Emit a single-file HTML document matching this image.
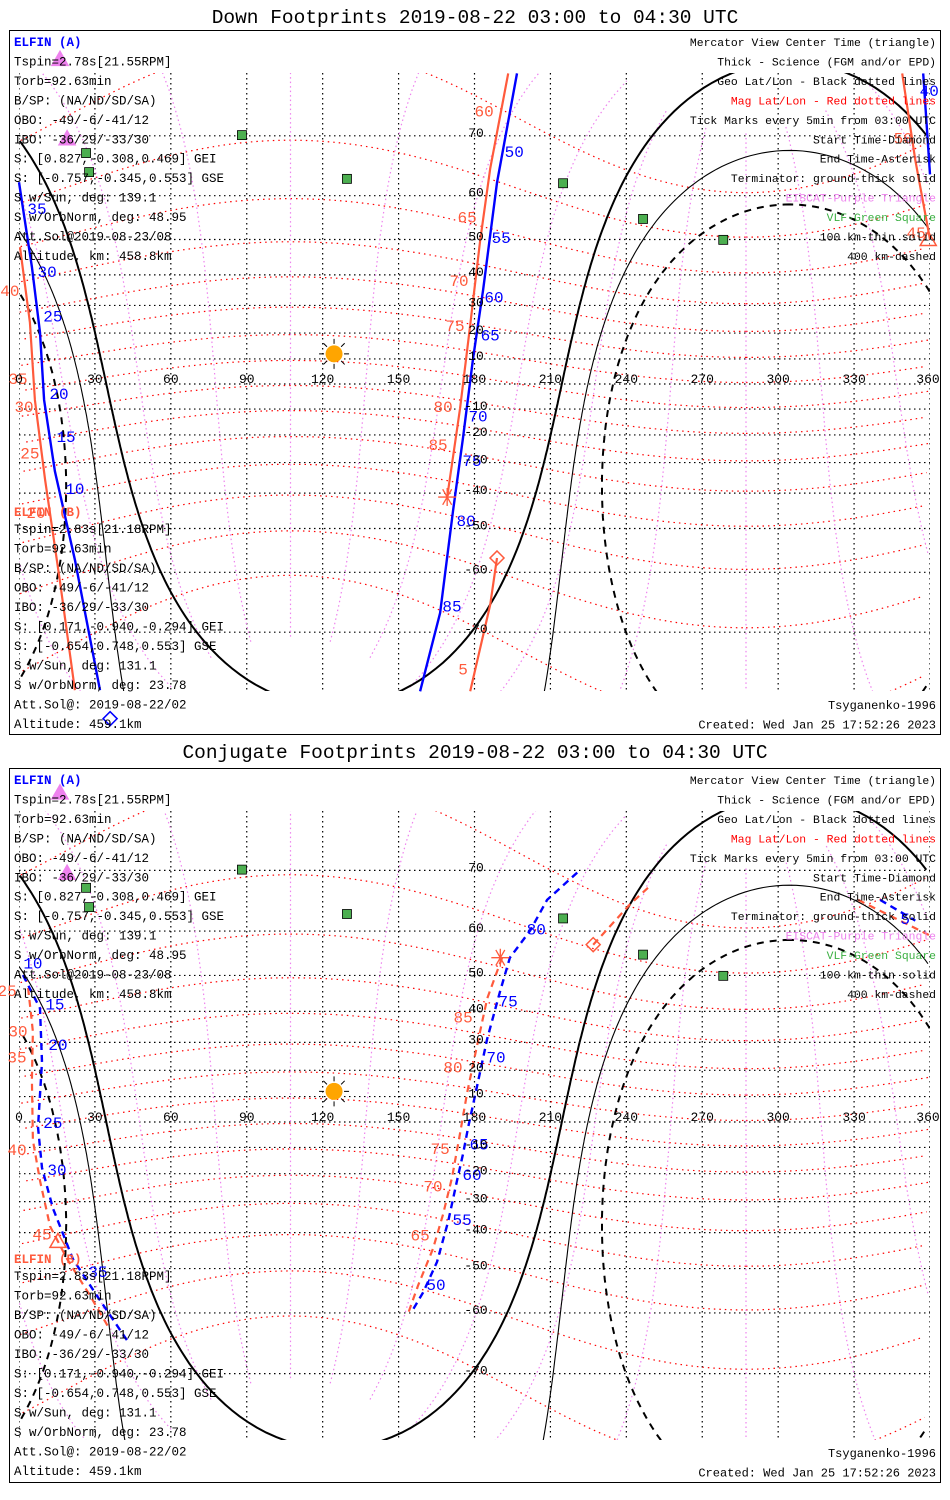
<!DOCTYPE html>
<html><head><meta charset="utf-8"><title>ELFIN Footprints</title>
<style>
html,body{margin:0;padding:0;background:#fff;width:950px;height:1500px;overflow:hidden;}
svg{display:block;overflow:hidden;position:absolute;left:0;top:0;}
text{font-family:"Liberation Mono","DejaVu Sans Mono",monospace;}
</style></head>
<body>
<svg id="chart" width="950" height="1500" viewBox="0 0 950 1500" xmlns="http://www.w3.org/2000/svg">
<defs>
<clipPath id="clip0"><rect x="19" y="73" width="911" height="618"/></clipPath>
<clipPath id="clip1"><rect x="19" y="811" width="911" height="629"/></clipPath>
</defs>
<rect x="0" y="0" width="950" height="1500" fill="#fff"/>
<text x="475" y="23" font-size="19.5" text-anchor="middle">Down Footprints 2019-08-22 03:00 to 04:30 UTC</text>
<rect x="9.5" y="30.5" width="931" height="704" fill="none" stroke="#000" stroke-width="1"/>
<text x="475" y="758" font-size="19.5" text-anchor="middle">Conjugate Footprints 2019-08-22 03:00 to 04:30 UTC</text>
<rect x="9.5" y="768.5" width="931" height="714" fill="none" stroke="#000" stroke-width="1"/>
<g id="layer"></g>
</svg>
<script>
// ---------------- data ----------------
const lonTicks = [0,30,60,90,120,150,180,210,240,270,300,330,360];
const latTicks = [70,60,50,40,30,20,10,-10,-20,-30,-40,-50,-60,-70];
const sunLon = 124.5, sunLat = 12;
const terminatorSza = [90, 100.1, 109.8];
const vlfLon = [88.1,26.5,27.7,129.6,215,246.6,278.3];
const vlfLat = [70.1,67.5,64.4,63.2,62.4,55,49.9];
const eiscatLon = [16.2,19];
const eiscatLat = [78.2,69.6];

// Down panel, ELFIN A (blue)
const dA1Lon = [196.8,188.9,183.4,179.4,175.5,171.5,166.4,158.5];
const dA1Lat = [77,62.5,35.2,10.0,-20.8,-45.3,-67.2,-76.7];
const dA2Lon = [0,5.1,8.3,9.9,14.2,22.1,32];
const dA2Lat = [62.6,42.4,20.2,-6.4,-33,-57.4,-76.6];
const dA3Lon = [357.3,360];
const dA3Lat = [77,64];
const dALabels = ['50','55','60','65','70','75','80','85','35','30','25','20','15','10','40'];
const dALabLon = [195.7,190.5,187.7,186.2,181.4,179,176.7,171.1,7.1,11.1,13.4,15.8,18.6,22.1,359.7];
const dALabLat = [67.8,50.6,33,19.5,-12.6,-29.1,-47.8,-66,57.4,41.2,26.5,-3.6,-20.4,-38.4,75.4];
// Down panel, ELFIN B (orange)
const dB1Lon = [193.3,186.2,182.2,178.3,174.3,169.2];
const dB1Lat = [77,65,49.6,23,-9.6,-41.2];
const dB2Lon = [188.9,186.2,178.3];
const dB2Lat = [-57,-65.9,-76.7];
const dB3Lon = [349,354.2,360];
const dB3Lat = [77,66.4,50];
const dB4Lon = [0.4,4.3,6.3,10.3,16.2,22.1];
const dB4Lat = [48,24,-6.4,-35.8,-61.8,-76.6];
const dBLabels = ['60','65','70','75','80','85','5','40','35','30','25','20','50','45'];
const dBLabLon = [183.8,177.1,173.9,172.3,167.6,165.6,175.5,-3.6,-0.4,2,4.3,6.7,349.4,354.5];
const dBLabLat = [73.2,55.6,38.4,23,-8.8,-23.4,-74.4,35.2,2.4,-8.8,-26.4,-45.5,69.8,51.9];

// Conjugate panel, ELFIN A (blue dashed)
const cA1Lon = [220.6,208.7,202,194,190.1,185,181,177.5,175.5,173.1,169.6,165.2,159.7,155.7];
const cA1Lat = [69.7,65.6,60.1,54.3,45.8,31.2,13.9,-2,-12.4,-22.6,-36.5,-48.3,-55.7,-59.3];
const cA2Lon = [1.6,8.3,9.1,7.5,9.1,13.4,21.3,30.8,42.7];
const cA2Lat = [50.1,40.9,23,-2,-17.8,-32.2,-47.5,-56.4,-65];
const cA3Lon = [340.3,354.2];
const cA3Lat = [65.6,62];
const cALabels = ['80','75','70','65','60','55','50','10','15','20','25','30','35','5'];
const cALabLon = [204.4,193.3,188.5,181.8,179,175.1,164.8,5.5,14.2,15.4,13.4,15,31.2,350.2];
const cALabLat = [60.5,43.2,25,-8.4,-20.1,-35.8,-53.8,53.2,42.4,29.5,0,-18.2,-50.6,62.5];
// Conjugate panel, ELFIN B (orange dashed)
const cB1Lon = [190.9,185,181,177.1,174.3,171.1,167.6,163.6,157.7,153.4];
const cB1Lat = [54.3,43.8,28.8,11.6,-4.4,-21.5,-34.2,-44.7,-54.1,-60.6];
const cB2Lon = [226.9,241.5,250];
const cB2Lat = [57.2,64.9,68];
const cB3Lon = [331.6,360];
const cB3Lat = [65.6,59.1];
const cB4Lon = [3.6,5.5,5.1,5.5,8.3,12.3,19,28.1,36];
const cB4Lat = [46.7,33.6,16.6,-7.2,-22.6,-38.1,-47.5,-56.4,-63.2];
const cBLabels = ['85','80','75','70','65','25','30','35','40','45'];
const cBLabLon = [175.5,171.5,166.4,163.6,158.5,-4.7,-0.4,-0.8,-0.8,9.1];
const cBLabLat = [38.4,21.5,-10.3,-24.4,-40.5,46.1,34,25,-10.7,-40.2];

const infoA = ['ELFIN (A)','Tspin=2.78s[21.55RPM]','Torb=92.63min','B/SP: (NA/ND/SD/SA)','OBO: -49/-6/-41/12','IBO: -36/29/-33/30','S: [0.827,-0.308,0.469] GEI','S: [-0.757,-0.345,0.553] GSE','S w/Sun, deg: 139.1','S w/OrbNorm, deg: 48.95','Att.Sol@2019-08-23/08','Altitude, km: 458.8km'];
const infoB = ['ELFIN (B)','Tspin=2.83s[21.18RPM]','Torb=92.63min','B/SP: (NA/ND/SD/SA)','OBO: -49/-6/-41/12','IBO: -36/29/-33/30','S: [0.171,-0.940,-0.294] GEI','S: [-0.654,0.748,0.553] GSE','S w/Sun, deg: 131.1','S w/OrbNorm, deg: 23.78','Att.Sol@: 2019-08-22/02','Altitude: 459.1km'];
const legendLines = ['Mercator View Center Time (triangle)','Thick - Science (FGM and/or EPD)','Geo Lat/Lon - Black dotted lines','Mag Lat/Lon - Red dotted lines','Tick Marks every 5min from 03:00 UTC','Start Time-Diamond','End Time-Asterisk','Terminator: ground-thick solid','EISCAT-Purple Triangle','VLF-Green Square','100 km-thin solid','400 km-dashed'];
const legendColors = ['#000','#000','#000','#f00','#000','#000','#000','#000','#ee82ee','#3cb043','#000','#000'];

// ---------------- drawing ----------------
const NS = 'http://www.w3.org/2000/svg';
const layer = document.getElementById('layer');
const BLUE = '#0000ff', ORANGE = '#ff5a3c';
const D = Math.PI/180;
function mk(tag, attrs, parent){
  const e = document.createElementNS(NS, tag);
  for (const k in attrs) e.setAttribute(k, attrs[k]);
  parent.appendChild(e);
  return e;
}
const panels = [
  {y0:384, R:143, dy:0, clip:'url(#clip0)', top:73, bot:691, key:'down'},
  {y0:1122, R:145, dy:738, clip:'url(#clip1)', top:811, bot:1440, key:'conj'}
];
function X(lon){ return 19 + lon*911/360; }
function Yf(p){ return lat => p.y0 - p.R*Math.log(Math.tan(Math.PI/4 + Math.max(-88,Math.min(88,lat))*D/2)); }
function cy(v){ return Math.max(0, Math.min(1500, v)); }
function pathOf(lons, lats, Y){
  let d=''; let prev=null;
  for (let i=0;i<lons.length;i++){
    const l=lons[i];
    const jump = prev!==null && Math.abs(l-prev)>180;
    d += ((i===0||jump)?'M':'L') + X(l).toFixed(1)+','+cy(Y(lats[i])).toFixed(1)+' ';
    prev=l;
  }
  return d;
}
function norm(l){ l%=360; if(l<0) l+=360; return l; }
function mag2geo(mlat, mlon){
  const tp=9.4*D, pp=287.3*D;
  const x=Math.cos(mlat*D)*Math.cos(mlon*D), y=Math.cos(mlat*D)*Math.sin(mlon*D), z=Math.sin(mlat*D);
  const x1=x*Math.cos(tp)+z*Math.sin(tp), z1=-x*Math.sin(tp)+z*Math.cos(tp);
  const x2=x1*Math.cos(pp)-y*Math.sin(pp), y2=x1*Math.sin(pp)+y*Math.cos(pp);
  return [norm(Math.atan2(y2,x2)/D), Math.asin(Math.max(-1,Math.min(1,z1)))/D];
}
function sym(kind, x, y, color, g){
  let e;
  if (kind==='asterisk'){
    let d=''; for (let a=0;a<180;a+=60){ const c=Math.cos(a*D)*9, s=Math.sin(a*D)*9; d+=`M${x-c},${y-s}L${x+c},${y+s}`; }
    d+=`M${x},${y-9}L${x},${y+9}`;
    e = mk('path',{d:d,stroke:color,'stroke-width':1.3,fill:'none'},g);
  } else if (kind==='diamond'){
    e = mk('path',{d:`M${x},${y-7}L${x+7},${y}L${x},${y+7}L${x-7},${y}Z`,stroke:color,'stroke-width':1.5,fill:'none'},g);
  } else {
    e = mk('path',{d:`M${x},${y-8}L${x+8},${y+6}L${x-8},${y+6}Z`,stroke:color,'stroke-width':1.5,fill:kind==='tri-fill'?color:'none'},g);
  }
  return e;
}

panels.forEach((p, pi) => {
  const Y = Yf(p);
  const g = mk('g',{'clip-path':p.clip},layer);
  
  
  lonTicks.forEach(lon => {
    const e = mk('line',{x1:X(lon),x2:X(lon),y1:p.top,y2:p.bot,stroke:'#000','stroke-width':1.2,'stroke-dasharray':'1.5,3.5'},g);
    
    
  });
  latTicks.concat([0]).forEach(lat => {
    const e = mk('line',{x1:19,x2:930,y1:Y(lat),y2:Y(lat),stroke:'#000','stroke-width':1.2,'stroke-dasharray':'1.5,3.5'},g);
    
    
  });
  for (let ml=-70; ml<=70; ml+=10){
    const lo=[], la=[];
    for (let m=0;m<=360;m+=3){ const q=mag2geo(ml,m); lo.push(q[0]); la.push(q[1]); }
    const e = mk('path',{d:pathOf(lo,la,Y),stroke:'#f00','stroke-width':1.2,fill:'none','stroke-dasharray':'1.5,4'},g);
    
    
  }
  for (let mo=0; mo<360; mo+=30){
    const lo=[], la=[];
    for (let ml=-80; ml<=80; ml+=2){ const q=mag2geo(ml,mo); lo.push(q[0]); la.push(q[1]); }
    const e = mk('path',{d:pathOf(lo,la,Y),stroke:'#ee82ee','stroke-width':1.2,fill:'none','stroke-dasharray':'1.5,3'},g);
    
    
  }
  terminatorSza.forEach((sza, k) => {
    const lo=[], la=[]; const dl=sunLat*D, th=sza*D;
    for (let az=0; az<=360; az+=1){
      const a=az*D;
      const lat2=Math.asin(Math.sin(dl)*Math.cos(th)+Math.cos(dl)*Math.sin(th)*Math.cos(a));
      const lon2=sunLon*D+Math.atan2(Math.sin(a)*Math.sin(th)*Math.cos(dl), Math.cos(th)-Math.sin(dl)*Math.sin(lat2));
      lo.push(norm(lon2/D)); la.push(lat2/D);
    }
    const st = k===0?{w:2,da:'none'}:(k===1?{w:1.1,da:'none'}:{w:2,da:'7,6'});
    const e = mk('path',{d:pathOf(lo,la,Y),stroke:'#000','stroke-width':st.w,fill:'none','stroke-dasharray':st.da},g);
    
    
  });
  vlfLon.forEach((lon,i) => {
    const e = mk('rect',{x:X(lon)-4.5,y:Y(vlfLat[i])-4.5,width:9,height:9,fill:'#4caf50',stroke:'#000','stroke-width':0.8},g);
    
    
  });
  const sx=X(sunLon), sy=Y(sunLat);
  let sd=''; for (let a=0;a<360;a+=45){ sd+=`M${sx+Math.cos(a*D)*10},${sy+Math.sin(a*D)*10}L${sx+Math.cos(a*D)*15},${sy+Math.sin(a*D)*15}`; }
  const rays = mk('path',{d:sd,stroke:'#000','stroke-width':1},g);
  
  
  const sun = mk('circle',{cx:sx,cy:sy,r:8.5,fill:'#ffa500'},g);
  
  

  const dash = pi===1 ? '7,5' : 'none';
  const segA = pi===0 ? [[dA1Lon,dA1Lat],[dA2Lon,dA2Lat],[dA3Lon,dA3Lat]] : [[cA1Lon,cA1Lat],[cA2Lon,cA2Lat],[cA3Lon,cA3Lat]];
  const segB = pi===0 ? [[dB1Lon,dB1Lat],[dB2Lon,dB2Lat],[dB3Lon,dB3Lat],[dB4Lon,dB4Lat]] : [[cB1Lon,cB1Lat],[cB2Lon,cB2Lat],[cB3Lon,cB3Lat],[cB4Lon,cB4Lat]];
  segB.forEach(s => {
    const e = mk('path',{d:pathOf(s[0],s[1],Y),stroke:ORANGE,'stroke-width':2.2,fill:'none','stroke-dasharray':dash},layer);
    
    
  });
  segA.forEach(s => {
    const e = mk('path',{d:pathOf(s[0],s[1],Y),stroke:BLUE,'stroke-width':2.4,fill:'none','stroke-dasharray':dash},layer);
    
    
  });
  const labA = pi===0 ? [dALabels,dALabLon,dALabLat] : [cALabels,cALabLon,cALabLat];
  const labB = pi===0 ? [dBLabels,dBLabLon,dBLabLat] : [cBLabels,cBLabLon,cBLabLat];
  labA[0].forEach((t,i) => {
    const e = mk('text',{x:X(labA[1][i]),y:Y(labA[2][i])+6,'font-size':16,fill:BLUE,'text-anchor':'middle'},layer);
    e.textContent = t;
    
    
  });
  labB[0].forEach((t,i) => {
    const e = mk('text',{x:X(labB[1][i]),y:Y(labB[2][i])+6,'font-size':16,fill:ORANGE,'text-anchor':'middle'},layer);
    e.textContent = t;
    
    
  });
  const syms = pi===0 ?
    [['asterisk',169.2,-41.2,ORANGE,'end-time-b'],['diamond',188.9,-57,ORANGE,'start-time-b'],['diamond',36,-79,BLUE,'start-time-a'],['tri',359.3,50,ORANGE,'center-time-b']] :
    [['asterisk',190.2,54.3,ORANGE,'end-time-b'],['diamond',226.9,57.2,ORANGE,'start-time-b'],['tri',15.4,-42.6,ORANGE,'center-time-b']];
  syms.forEach(s => {
    const e = sym(s[0], X(s[1]), Y(s[2]), s[3], layer);
    
    
  });
  eiscatLon.forEach((lon,i) => {
    const e = sym('tri-fill', X(lon), Y(eiscatLat[i]), '#ee82ee', layer);
    
    
  });
  lonTicks.forEach(lon => {
    const e = mk('text',{x:Math.min(X(lon),928),y:Y(0)-1,'font-size':13,'text-anchor':'middle',fill:'#000'},layer);
    e.textContent = String(lon);
    
    
  });
  latTicks.forEach(lat => {
    const e = mk('text',{x:476,y:Y(lat)+1,'font-size':13,'text-anchor':'middle',fill:'#000'},layer);
    e.textContent = String(lat);
    
    
  });
  const ya = 46 + p.dy, yb = pi===0 ? 516 : 1263;
  infoA.forEach((t,i) => {
    const e = mk('text',{x:14,y:ya+i*19.45,'font-size':12.5,fill:i===0?BLUE:'#000','font-weight':i===0?'bold':'normal'},layer);
    e.textContent = t;
    
    
  });
  infoB.forEach((t,i) => {
    const yy = i===0 ? yb : yb + 17 + (i-1)*19.5;
    const e = mk('text',{x:14,y:yy,'font-size':12.5,fill:i===0?ORANGE:'#000','font-weight':i===0?'bold':'normal'},layer);
    e.textContent = t;
    
    
  });
  legendLines.forEach((t,i) => {
    const e = mk('text',{x:936,y:ya+i*19.45,'font-size':11.4,fill:legendColors[i],'text-anchor':'end'},layer);
    e.textContent = t;
    
    
  });
  const yc = pi===0 ? 709 : 1457;
  const t1 = mk('text',{x:936,y:yc,'font-size':12,'text-anchor':'end'},layer);
  t1.textContent = 'Tsyganenko-1996';
  
  
  const t2 = mk('text',{x:936,y:yc+19.5,'font-size':12,'text-anchor':'end'},layer);
  t2.textContent = 'Created: Wed Jan 25 17:52:26 2023';
  
  
});
</script>
</body></html>
